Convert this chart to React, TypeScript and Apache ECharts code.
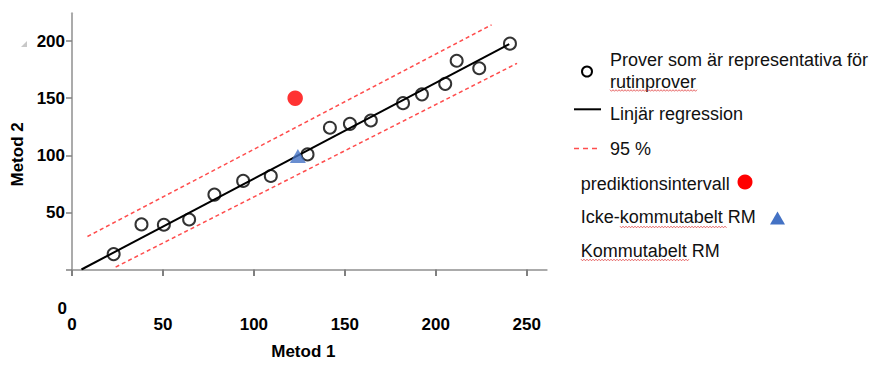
import React, { useEffect, useRef } from "react";
import * as echarts from "echarts";

const FONT = '"Liberation Sans", Arial, sans-serif';

// Data
const samplePoints: number[][] = [
  [22.9, 13.5], [38.2, 39.5], [50.5, 39.2], [64.4, 43.8], [78.3, 65.6],
  [94.1, 77.6], [109.3, 81.9], [129.5, 100.8], [141.8, 124.2], [152.8, 127.6],
  [164.3, 130.5], [182.0, 145.7], [192.4, 153.4], [205.2, 162.6], [211.5, 182.8],
  [223.9, 176.3], [240.8, 197.8],
];
const regressionLine: number[][] = [[5.2, 0], [240.4, 197.4]];
const upperPI: number[][] = [[8.5, 28.9], [230.7, 214.3]];
const lowerPI: number[][] = [[24.0, 2.1], [244.7, 180.6]];
const nonCommutableRM: number[][] = [[122.7, 150.0]];
const commutableRM: number[][] = [[124.2, 99.5]];

const xTicks = [0, 50, 100, 150, 200, 250];
const yTicks = [0, 50, 100, 150, 200];
const yLabels = [50, 100, 150, 200];

const legendTexts = {
  samples1: "Prover som är representativa för",
  samples2: "rutinprover",
  regression: "Linjär regression",
  pi1: "95 %",
  pi2: "prediktionsintervall",
  nonComm: "Icke-kommutabelt RM",
  comm: "Kommutabelt RM",
};

const AXIS_GRAY = "#ababab";
const TICK_GRAY = "#808080";
const RED_DASH = "#ff4d4d";

function wavy(x0: number, x1: number, y: number) {
  const pts: number[][] = [];
  let up = true;
  for (let x = x0; x <= x1; x += 1.5) {
    pts.push([x, up ? y - 0.8 : y + 0.8]);
    up = !up;
  }
  return {
    type: "polyline",
    shape: { points: pts },
    style: { stroke: "#e04040", lineWidth: 0.8, fill: null },
    silent: true,
  };
}

function legendText(text: string, x: number, y: number) {
  return {
    type: "text",
    x,
    y,
    style: {
      text,
      font: `18px ${FONT}`,
      fill: "#111",
      verticalAlign: "middle",
      align: "left",
    },
  };
}

export default function App() {
  const ref = useRef<HTMLDivElement>(null);
  useEffect(() => {
    if (!ref.current) return;
    const chart = echarts.init(ref.current, undefined, { renderer: "svg" });
    const option: any = {
      animation: false,
      backgroundColor: "#ffffff",
      grid: { left: 72, top: 13.3, width: 474.7, height: 261.7, containLabel: false },
      xAxis: {
        type: "value",
        min: 0,
        max: 261,
        name: "Metod 1",
        nameLocation: "middle",
        nameGap: 82,
        nameTextStyle: {
          fontFamily: FONT, fontSize: 17, fontWeight: "bold", color: "#000",
          verticalAlign: "middle", padding: [0, 12, 0, 0],
        },
        splitLine: { show: false },
        axisLine: { show: true, lineStyle: { color: AXIS_GRAY, width: 2 } },
        axisTick: { show: true, inside: false, length: 6.5, customValues: xTicks, lineStyle: { color: TICK_GRAY, width: 2 } },
        axisLabel: {
          customValues: xTicks,
          margin: 55,
          verticalAlign: "middle",
          fontFamily: FONT, fontSize: 17, fontWeight: "bold", color: "#000",
        },
      },
      yAxis: {
        type: "value",
        min: 0,
        max: 224.4,
        name: "Metod 2",
        nameLocation: "middle",
        nameRotate: 90,
        nameGap: 54,
        nameTextStyle: {
          fontFamily: FONT, fontSize: 17, fontWeight: "bold", color: "#000",
          verticalAlign: "middle", padding: [0, 26, 0, 0],
        },
        splitLine: { show: false },
        axisLine: { show: true, lineStyle: { color: AXIS_GRAY, width: 2 } },
        axisTick: { show: true, inside: false, length: 6, customValues: yTicks, lineStyle: { color: TICK_GRAY, width: 1.5 } },
        axisLabel: {
          customValues: yLabels,
          margin: 7,
          fontFamily: FONT, fontSize: 17, fontWeight: "bold", color: "#000",
        },
      },
      series: [
        {
          name: "Linjär regression",
          type: "line",
          data: regressionLine,
          showSymbol: false,
          lineStyle: { color: "#000", width: 2 },
          z: 2,
        },
        {
          name: "95 % övre",
          type: "line",
          data: upperPI,
          showSymbol: false,
          lineStyle: { color: RED_DASH, width: 1.5, type: [4, 3] },
          z: 2,
        },
        {
          name: "95 % nedre",
          type: "line",
          data: lowerPI,
          showSymbol: false,
          lineStyle: { color: RED_DASH, width: 1.5, type: [4, 3] },
          z: 2,
        },
        {
          name: legendTexts.samples1,
          type: "scatter",
          data: samplePoints,
          symbol: "circle",
          symbolSize: 12,
          itemStyle: { color: "transparent", borderColor: "#000", borderWidth: 2 },
          z: 3,
        },
        {
          name: legendTexts.nonComm,
          type: "scatter",
          data: nonCommutableRM,
          symbol: "circle",
          symbolSize: 15.5,
          itemStyle: { color: "#ff0000" },
          z: 4,
        },
        {
          name: legendTexts.comm,
          type: "scatter",
          data: commutableRM,
          symbol: "triangle",
          symbolSize: [16, 14],
          itemStyle: { color: "#4472c4" },
          z: 4,
        },
      ],
      graphic: [
        // y-axis "0" label, displaced as in the reference
        {
          type: "text",
          x: 62.3,
          y: 308.3,
          style: {
            text: "0", font: `bold 17px ${FONT}`, fill: "#000",
            align: "center", verticalAlign: "middle",
          },
        },
        // small grey corner mark
        {
          type: "polygon",
          shape: { points: [[21, 47], [27, 47], [27, 41]] },
          style: { fill: "#c8c8c8" },
        },
        // legend
        {
          type: "circle",
          shape: { cx: 587, cy: 71.5, r: 5 },
          style: { fill: "none", stroke: "#000", lineWidth: 2 },
        },
        legendText(legendTexts.samples1, 610, 60),
        legendText(legendTexts.samples2, 610, 82),
        wavy(610, 698, 90.5),
        {
          type: "line",
          shape: { x1: 574, y1: 109.3, x2: 601, y2: 109.3 },
          style: { stroke: "#000", lineWidth: 2 },
        },
        legendText(legendTexts.regression, 610, 114),
        {
          type: "line",
          shape: { x1: 574, y1: 148.5, x2: 601, y2: 148.5 },
          style: { stroke: RED_DASH, lineWidth: 1.5, lineDash: [5, 4] },
        },
        legendText(legendTexts.pi1, 610, 149.3),
        legendText(legendTexts.pi2, 580.7, 184),
        {
          type: "circle",
          shape: { cx: 745, cy: 182, r: 7.5 },
          style: { fill: "#ff0000" },
        },
        legendText(legendTexts.nonComm, 580.7, 217.3),
        wavy(620, 727, 227),
        {
          type: "polygon",
          shape: { points: [[770, 224.5], [785, 224.5], [777.5, 211.5]] },
          style: { fill: "#4472c4" },
        },
        legendText(legendTexts.comm, 580.7, 250.7),
        wavy(581, 690, 260),
      ],
    };
    chart.setOption(option);
    return () => chart.dispose();
  }, []);
  return (
    <div
      ref={ref}
      style={{ position: "absolute", left: 0, top: 0, width: 874, height: 365 }}
    />
  );
}
